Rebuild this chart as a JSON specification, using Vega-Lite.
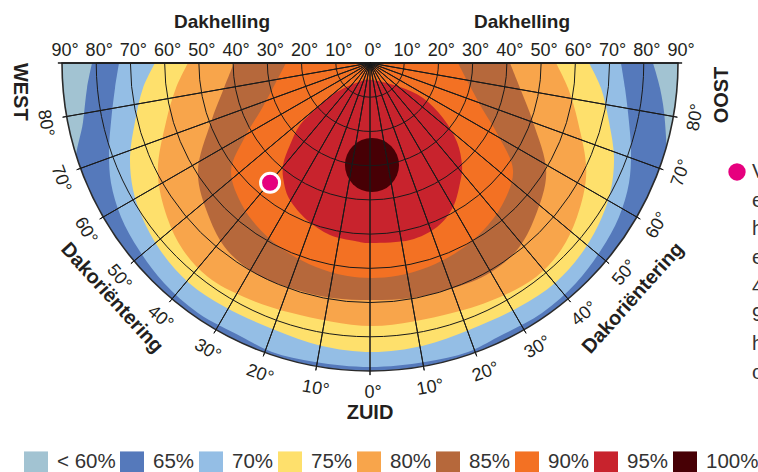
{
"$schema":"https://vega.github.io/schema/vega-lite/v6.json",
"width":758,"height":472,"autosize":"none","padding":0,
"config":{"view":{"stroke":null},"font":"Liberation Sans"},
"data":{"values":[{}]},
"datasets":{
"contours":[
{"lv":"65%","i":0,"u":82.69,"v":0},{"lv":"65%","i":1,"u":84.74,"v":7.31},{"lv":"65%","i":2,"u":86.20,"v":17.24},{"lv":"65%","i":3,"u":85.98,"v":31.29},{"lv":"65%","i":4,"u":79.24,"v":45.75},{"lv":"65%","i":5,"u":64.70,"v":64.70},{"lv":"65%","i":6,"u":45.75,"v":79.24},{"lv":"65%","i":7,"u":23.68,"v":88.38},{"lv":"65%","i":8,"u":0,"v":91.5},{"lv":"65%","i":9,"u":-23.68,"v":88.38},{"lv":"65%","i":10,"u":-45.75,"v":79.24},{"lv":"65%","i":11,"u":-64.70,"v":64.70},{"lv":"65%","i":12,"u":-79.24,"v":45.75},{"lv":"65%","i":13,"u":-85.98,"v":31.29},{"lv":"65%","i":14,"u":-83.86,"v":17.24},{"lv":"65%","i":15,"u":-82.69,"v":7.31},{"lv":"65%","i":16,"u":-81.23,"v":0},
{"lv":"70%","i":0,"u":73.34,"v":0},{"lv":"70%","i":1,"u":74.51,"v":7.31},{"lv":"70%","i":2,"u":75.68,"v":17.24},{"lv":"70%","i":3,"u":76.27,"v":25.42},{"lv":"70%","i":4,"u":75.68,"v":35.07},{"lv":"70%","i":5,"u":72.76,"v":45.00},{"lv":"70%","i":6,"u":67.50,"v":54.64},{"lv":"70%","i":7,"u":60.20,"v":64.29},{"lv":"70%","i":8,"u":50.26,"v":73.06},{"lv":"70%","i":9,"u":37.40,"v":80.07},{"lv":"70%","i":10,"u":28.64,"v":84.45},{"lv":"70%","i":11,"u":16.07,"v":87.37},{"lv":"70%","i":12,"u":0,"v":88.83},{"lv":"70%","i":13,"u":-16.07,"v":87.37},{"lv":"70%","i":14,"u":-28.64,"v":84.45},{"lv":"70%","i":15,"u":-37.40,"v":80.07},{"lv":"70%","i":16,"u":-50.26,"v":73.06},{"lv":"70%","i":17,"u":-60.20,"v":64.29},{"lv":"70%","i":18,"u":-67.50,"v":54.64},{"lv":"70%","i":19,"u":-72.76,"v":45.00},{"lv":"70%","i":20,"u":-75.68,"v":35.07},{"lv":"70%","i":21,"u":-76.27,"v":25.42},{"lv":"70%","i":22,"u":-75.68,"v":17.24},{"lv":"70%","i":23,"u":-74.51,"v":7.31},{"lv":"70%","i":24,"u":-73.34,"v":0},
{"lv":"75%","i":0,"u":63.99,"v":0},{"lv":"75%","i":1,"u":67.50,"v":7.31},{"lv":"75%","i":2,"u":69.84,"v":17.24},{"lv":"75%","i":3,"u":71.30,"v":27.5},{"lv":"75%","i":4,"u":70.40,"v":37.0},{"lv":"75%","i":5,"u":67.79,"v":45.00},{"lv":"75%","i":6,"u":62.53,"v":54.64},{"lv":"75%","i":7,"u":54.06,"v":64.29},{"lv":"75%","i":8,"u":43.54,"v":71.30},{"lv":"75%","i":9,"u":28.93,"v":78.02},{"lv":"75%","i":10,"u":15.5,"v":82.6},{"lv":"75%","i":11,"u":0.58,"v":84.45},{"lv":"75%","i":12,"u":-14.4,"v":82.6},{"lv":"75%","i":13,"u":-27.76,"v":78.02},{"lv":"75%","i":14,"u":-42.37,"v":71.30},{"lv":"75%","i":15,"u":-52.89,"v":64.29},{"lv":"75%","i":16,"u":-61.36,"v":54.64},{"lv":"75%","i":17,"u":-66.62,"v":45.00},{"lv":"75%","i":18,"u":-69.25,"v":37.0},{"lv":"75%","i":19,"u":-70.13,"v":27.5},{"lv":"75%","i":20,"u":-68.67,"v":17.24},{"lv":"75%","i":21,"u":-66.33,"v":7.31},{"lv":"75%","i":22,"u":-62.83,"v":0},
{"lv":"80%","i":0,"u":54.35,"v":0},{"lv":"80%","i":1,"u":57.86,"v":7.31},{"lv":"80%","i":2,"u":60.78,"v":17.24},{"lv":"80%","i":3,"u":63.2,"v":32.0},{"lv":"80%","i":4,"u":60.49,"v":45.00},{"lv":"80%","i":5,"u":55.81,"v":54.64},{"lv":"80%","i":6,"u":48.51,"v":62.53},{"lv":"80%","i":7,"u":37.99,"v":68.38},{"lv":"80%","i":8,"u":23.96,"v":73.06},{"lv":"80%","i":9,"u":0.58,"v":76.85},{"lv":"80%","i":10,"u":-22.79,"v":73.06},{"lv":"80%","i":11,"u":-36.82,"v":68.38},{"lv":"80%","i":12,"u":-47.34,"v":62.53},{"lv":"80%","i":13,"u":-54.64,"v":54.64},{"lv":"80%","i":14,"u":-59.32,"v":45.00},{"lv":"80%","i":15,"u":-62.0,"v":32.0},{"lv":"80%","i":16,"u":-59.61,"v":17.24},{"lv":"80%","i":17,"u":-56.69,"v":7.31},{"lv":"80%","i":18,"u":-53.18,"v":0},
{"lv":"85%","i":0,"u":40.91,"v":0},{"lv":"85%","i":1,"u":43.83,"v":7.31},{"lv":"85%","i":2,"u":47.63,"v":17.24},{"lv":"85%","i":3,"u":51.5,"v":32.0},{"lv":"85%","i":4,"u":48.21,"v":45.00},{"lv":"85%","i":5,"u":42.96,"v":54.64},{"lv":"85%","i":6,"u":33.90,"v":61.95},{"lv":"85%","i":7,"u":22.50,"v":66.33},{"lv":"85%","i":8,"u":12.27,"v":68.67},{"lv":"85%","i":9,"u":0.58,"v":69.25},{"lv":"85%","i":10,"u":-11.10,"v":68.67},{"lv":"85%","i":11,"u":-21.33,"v":66.33},{"lv":"85%","i":12,"u":-32.73,"v":61.95},{"lv":"85%","i":13,"u":-41.78,"v":54.64},{"lv":"85%","i":14,"u":-47.05,"v":45.00},{"lv":"85%","i":15,"u":-50.3,"v":32.0},{"lv":"85%","i":16,"u":-46.46,"v":17.24},{"lv":"85%","i":17,"u":-42.66,"v":7.31},{"lv":"85%","i":18,"u":-39.74,"v":0},
{"lv":"90%","i":0,"u":25.71,"v":0},{"lv":"90%","i":1,"u":29.51,"v":7.31},{"lv":"90%","i":2,"u":33.02,"v":13.73},{"lv":"90%","i":3,"u":37.40,"v":21.04},{"lv":"90%","i":4,"u":41.8,"v":31.5},{"lv":"90%","i":5,"u":38.6,"v":41.5},{"lv":"90%","i":6,"u":33.0,"v":49.0},{"lv":"90%","i":7,"u":25.8,"v":55.0},{"lv":"90%","i":8,"u":17.0,"v":59.6},{"lv":"90%","i":9,"u":8.0,"v":62.2},{"lv":"90%","i":10,"u":0.58,"v":62.83},{"lv":"90%","i":11,"u":-7.0,"v":62.2},{"lv":"90%","i":12,"u":-15.8,"v":59.6},{"lv":"90%","i":13,"u":-24.6,"v":55.0},{"lv":"90%","i":14,"u":-31.8,"v":49.0},{"lv":"90%","i":15,"u":-37.4,"v":41.5},{"lv":"90%","i":16,"u":-40.6,"v":31.5},{"lv":"90%","i":17,"u":-36.23,"v":21.04},{"lv":"90%","i":18,"u":-31.85,"v":13.73},{"lv":"90%","i":19,"u":-28.35,"v":7.31},{"lv":"90%","i":20,"u":-24.55,"v":0}
],
"red":[
{"i":0,"u":0.58,"v":4.97},{"i":1,"u":8.77,"v":7.01},{"i":2,"u":15.49,"v":10.23},{"i":3,"u":21.33,"v":16.07},{"i":4,"u":25.42,"v":23.08},{"i":5,"u":26.88,"v":29.81},{"i":6,"u":26.30,"v":35.07},{"i":7,"u":24.25,"v":42.08},{"i":8,"u":19.58,"v":47.92},{"i":9,"u":11.69,"v":51.72},{"i":10,"u":0.58,"v":52.60},{"i":11,"u":-4.38,"v":52.01},{"i":12,"u":-11.69,"v":50.26},{"i":13,"u":-18.41,"v":45.88},{"i":14,"u":-23.38,"v":40.03},{"i":15,"u":-25.13,"v":35.07},{"i":16,"u":-25.42,"v":29.81},{"i":17,"u":-23.38,"v":23.96},{"i":18,"u":-20.46,"v":18.12},{"i":19,"u":-15.49,"v":13.15},{"i":20,"u":-10.2,"v":8.77},{"i":21,"u":-3.5,"v":5.6}
],
"tilts":[{"t":10},{"t":20},{"t":30},{"t":40},{"t":50},{"t":60},{"t":70},{"t":80}],
"az":[{"s":-90},{"s":-80},{"s":-70},{"s":-60},{"s":-50},{"s":-40},{"s":-30},{"s":-20},{"s":-10},{"s":0},{"s":10},{"s":20},{"s":30},{"s":40},{"s":50},{"s":60},{"s":70},{"s":80},{"s":90}],
"azlab":[{"s":80,"lab":"80°"},{"s":70,"lab":"70°"},{"s":60,"lab":"60°"},{"s":50,"lab":"50°"},{"s":40,"lab":"40°"},{"s":30,"lab":"30°"},{"s":20,"lab":"20°"},{"s":10,"lab":"10°"},{"s":0,"lab":"0°"},{"s":-10,"lab":"10°"},{"s":-20,"lab":"20°"},{"s":-30,"lab":"30°"},{"s":-40,"lab":"40°"},{"s":-50,"lab":"50°"},{"s":-60,"lab":"60°"},{"s":-70,"lab":"70°"},{"s":-80,"lab":"80°"}],
"tlab":[{"u":-90,"lab":"90°"},{"u":-80,"lab":"80°"},{"u":-70,"lab":"70°"},{"u":-60,"lab":"60°"},{"u":-50,"lab":"50°"},{"u":-40,"lab":"40°"},{"u":-30,"lab":"30°"},{"u":-20,"lab":"20°"},{"u":-10,"lab":"10°"},{"u":0,"lab":"0°"},{"u":10,"lab":"10°"},{"u":20,"lab":"20°"},{"u":30,"lab":"30°"},{"u":40,"lab":"40°"},{"u":50,"lab":"50°"},{"u":60,"lab":"60°"},{"u":70,"lab":"70°"},{"u":80,"lab":"80°"},{"u":90,"lab":"90°"}]
},
"layer":[
{"mark":{"type":"arc","stroke":null},
 "encoding":{
  "x":{"datum":0,"type":"quantitative","scale":{"type":"linear","domain":[-108.118,113.377],"nice":false,"zero":false},"axis":null},
  "y":{"datum":0,"type":"quantitative","scale":{"type":"linear","domain":[-18.409,119.514],"nice":false,"zero":false,"reverse":true},"axis":null},
  "theta":{"datum":-90,"type":"quantitative","scale":{"type":"linear","domain":[-180,180],"range":[0,6.283185307179586]}},
  "theta2":{"datum":90},
  "radius":{"datum":90,"type":"quantitative","scale":{"type":"linear","domain":[0,90],"range":[0,308],"zero":true,"nice":false}},
  "color":{"datum":"< 60%","type":"nominal","scale":{"domain":["< 60%","65%","70%","75%","80%","85%","90%","95%","100%"],"range":["#a2c3d2","#5579bb","#94bee5","#fee06c","#f8a54b","#b6683b","#f37123","#c8232d","#470005"]},
   "legend":{"orient":"none","legendX":24,"legendY":450,"direction":"horizontal","columns":9,"title":null,"symbolType":"M-1,-0.92H1V0.92H-1Z","symbolSize":576,"symbolStrokeWidth":0,"labelFontSize":20.5,"labelColor":"#333333","labelOffset":9,"columnPadding":4,"padding":0}}
 }},
{"data":{"name":"contours"},
 "mark":{"type":"line","filled":true,"interpolate":"catmull-rom","strokeWidth":0},
 "encoding":{
  "x":{"field":"u","type":"quantitative","scale":{"type":"linear","domain":[-108.118,113.377],"nice":false,"zero":false},"axis":null},
  "y":{"field":"v","type":"quantitative","scale":{"type":"linear","domain":[-18.409,119.514],"nice":false,"zero":false,"reverse":true},"axis":null},
  "order":{"field":"i","type":"quantitative"},
  "color":{"field":"lv","type":"nominal","scale":{"domain":["< 60%","65%","70%","75%","80%","85%","90%","95%","100%"],"range":["#a2c3d2","#5579bb","#94bee5","#fee06c","#f8a54b","#b6683b","#f37123","#c8232d","#470005"]},
   "legend":{"orient":"none","legendX":24,"legendY":450,"direction":"horizontal","columns":9,"title":null,"symbolType":"M-1,-0.92H1V0.92H-1Z","symbolSize":576,"symbolStrokeWidth":0,"labelFontSize":20.5,"labelColor":"#333333","labelOffset":9,"columnPadding":4,"padding":0}}
 }},
{"data":{"name":"red"},
 "mark":{"type":"line","filled":true,"interpolate":"cardinal-closed","strokeWidth":0,"fill":"#c8232d"},
 "encoding":{
  "x":{"field":"u","type":"quantitative","scale":{"type":"linear","domain":[-108.118,113.377],"nice":false,"zero":false},"axis":null},
  "y":{"field":"v","type":"quantitative","scale":{"type":"linear","domain":[-18.409,119.514],"nice":false,"zero":false,"reverse":true},"axis":null},
  "order":{"field":"i","type":"quantitative"}
 }},
{"mark":{"type":"arc","stroke":null,"fill":"#470005"},
 "encoding":{
  "x":{"datum":0.58,"type":"quantitative","scale":{"type":"linear","domain":[-108.118,113.377],"nice":false,"zero":false},"axis":null},
  "y":{"datum":29.81,"type":"quantitative","scale":{"type":"linear","domain":[-18.409,119.514],"nice":false,"zero":false,"reverse":true},"axis":null},
  "theta":{"datum":-180,"type":"quantitative","scale":{"type":"linear","domain":[-180,180],"range":[0,6.283185307179586]}},
  "theta2":{"datum":180},
  "radius":{"datum":7.9,"type":"quantitative","scale":{"type":"linear","domain":[0,90],"range":[0,308],"zero":true,"nice":false}}
 }},
{"mark":{"type":"arc","fill":"white","stroke":null},
 "encoding":{
  "x":{"datum":0,"type":"quantitative","scale":{"type":"linear","domain":[-108.118,113.377],"nice":false,"zero":false},"axis":null},
  "y":{"datum":0,"type":"quantitative","scale":{"type":"linear","domain":[-18.409,119.514],"nice":false,"zero":false,"reverse":true},"axis":null},
  "theta":{"datum":-90,"type":"quantitative","scale":{"type":"linear","domain":[-180,180],"range":[0,6.283185307179586]}},
  "theta2":{"datum":90},
  "radius":{"datum":96,"type":"quantitative","scale":{"type":"linear","domain":[0,90],"range":[0,308],"zero":true,"nice":false}},
  "radius2":{"datum":90}
 }},
{"data":{"name":"tilts"},
 "mark":{"type":"arc","filled":false,"stroke":"#1a1a1a","strokeWidth":1},
 "encoding":{
  "x":{"datum":0,"type":"quantitative","scale":{"type":"linear","domain":[-108.118,113.377],"nice":false,"zero":false},"axis":null},
  "y":{"datum":0,"type":"quantitative","scale":{"type":"linear","domain":[-18.409,119.514],"nice":false,"zero":false,"reverse":true},"axis":null},
  "theta":{"datum":-90,"type":"quantitative","stack":null,"scale":{"type":"linear","domain":[-180,180],"range":[0,6.283185307179586]}},
  "theta2":{"datum":90},
  "radius":{"field":"t","type":"quantitative","stack":null,"scale":{"type":"linear","domain":[0,90],"range":[0,308],"zero":true,"nice":false}}
 }},
{"mark":{"type":"arc","filled":false,"stroke":"#2a2a2a","strokeWidth":1.6},
 "encoding":{
  "x":{"datum":0,"type":"quantitative","scale":{"type":"linear","domain":[-108.118,113.377],"nice":false,"zero":false},"axis":null},
  "y":{"datum":0,"type":"quantitative","scale":{"type":"linear","domain":[-18.409,119.514],"nice":false,"zero":false,"reverse":true},"axis":null},
  "theta":{"datum":-90,"type":"quantitative","scale":{"type":"linear","domain":[-180,180],"range":[0,6.283185307179586]}},
  "theta2":{"datum":90},
  "radius":{"datum":90,"type":"quantitative","scale":{"type":"linear","domain":[0,90],"range":[0,308],"zero":true,"nice":false}}
 }},
{"data":{"name":"az"},
 "mark":{"type":"arc","filled":false,"stroke":"#1a1a1a","strokeWidth":1},
 "encoding":{
  "x":{"datum":0,"type":"quantitative","scale":{"type":"linear","domain":[-108.118,113.377],"nice":false,"zero":false},"axis":null},
  "y":{"datum":0,"type":"quantitative","scale":{"type":"linear","domain":[-18.409,119.514],"nice":false,"zero":false,"reverse":true},"axis":null},
  "theta":{"field":"s","type":"quantitative","stack":null,"scale":{"type":"linear","domain":[-180,180],"range":[0,6.283185307179586]}},
  "theta2":{"field":"s"},
  "radius":{"datum":91.2,"type":"quantitative","scale":{"type":"linear","domain":[0,90],"range":[0,308],"zero":true,"nice":false}}
 }},
{"mark":{"type":"point","filled":true,"fill":"#e6007e","stroke":"white","strokeWidth":3,"size":361,"opacity":1},
 "encoding":{
  "x":{"datum":-29.2,"type":"quantitative","scale":{"type":"linear","domain":[-108.118,113.377],"nice":false,"zero":false},"axis":null},
  "y":{"datum":35.0,"type":"quantitative","scale":{"type":"linear","domain":[-18.409,119.514],"nice":false,"zero":false,"reverse":true},"axis":null}
 }},
{"mark":{"type":"point","filled":true,"fill":"#e6007e","strokeWidth":0,"size":300,"opacity":1},
 "encoding":{
  "x":{"datum":107.24,"type":"quantitative","scale":{"type":"linear","domain":[-108.118,113.377],"nice":false,"zero":false},"axis":null},
  "y":{"datum":31.85,"type":"quantitative","scale":{"type":"linear","domain":[-18.409,119.514],"nice":false,"zero":false,"reverse":true},"axis":null}
 }},
{"mark":{"type":"text","align":"left","baseline":"middle","fontSize":20,"fill":"#333333","lineHeight":28.7,"text":["Voorbeeld:","een dak met","helling van 45°","en oriëntatie","40° west geeft","90% van de","hoogst haalbare","opbrengst"]},
 "encoding":{
  "x":{"datum":111.63,"type":"quantitative","scale":{"type":"linear","domain":[-108.118,113.377],"nice":false,"zero":false},"axis":null},
  "y":{"datum":31.85,"type":"quantitative","scale":{"type":"linear","domain":[-18.409,119.514],"nice":false,"zero":false,"reverse":true},"axis":null}
 }},
{"data":{"name":"tlab"},
 "mark":{"type":"text","align":"center","baseline":"alphabetic","fontSize":18,"fill":"#231f20","dx":3},
 "encoding":{
  "x":{"field":"u","type":"quantitative","scale":{"type":"linear","domain":[-108.118,113.377],"nice":false,"zero":false},"axis":null},
  "y":{"datum":-1.9,"type":"quantitative","scale":{"type":"linear","domain":[-18.409,119.514],"nice":false,"zero":false,"reverse":true},"axis":null},
  "text":{"field":"lab"}
 }},
{"data":{"name":"azlab"},
 "mark":{"type":"text","align":"center","baseline":"middle","fontSize":18,"fill":"#231f20","dx":3},
 "encoding":{
  "x":{"datum":0,"type":"quantitative","scale":{"type":"linear","domain":[-108.118,113.377],"nice":false,"zero":false},"axis":null},
  "y":{"datum":0,"type":"quantitative","scale":{"type":"linear","domain":[-18.409,119.514],"nice":false,"zero":false,"reverse":true},"axis":null},
  "theta":{"field":"s","type":"quantitative","stack":null,"scale":{"type":"linear","domain":[-180,180],"range":[0,6.283185307179586]}},
  "radius":{"datum":96.5,"type":"quantitative","scale":{"type":"linear","domain":[0,90],"range":[0,308],"zero":true,"nice":false}},
  "angle":{"field":"s","type":"quantitative","scale":null},
  "text":{"field":"lab"}
 }},
{"mark":{"type":"text","align":"center","baseline":"alphabetic","fontSize":19,"fontWeight":"bold","fill":"#231f20","text":"Dakhelling"},
 "encoding":{
  "x":{"datum":-43.25,"type":"quantitative","scale":{"type":"linear","domain":[-108.118,113.377],"nice":false,"zero":false},"axis":null},
  "y":{"datum":-10.14,"type":"quantitative","scale":{"type":"linear","domain":[-18.409,119.514],"nice":false,"zero":false,"reverse":true},"axis":null}
 }},
{"mark":{"type":"text","align":"center","baseline":"alphabetic","fontSize":19,"fontWeight":"bold","fill":"#231f20","text":"Dakhelling"},
 "encoding":{
  "x":{"datum":44.42,"type":"quantitative","scale":{"type":"linear","domain":[-108.118,113.377],"nice":false,"zero":false},"axis":null},
  "y":{"datum":-10.14,"type":"quantitative","scale":{"type":"linear","domain":[-18.409,119.514],"nice":false,"zero":false,"reverse":true},"axis":null}
 }},
{"mark":{"type":"text","align":"center","baseline":"middle","fontSize":20,"fontWeight":"bold","fill":"#231f20","text":"WEST","angle":90},
 "encoding":{
  "x":{"datum":0,"type":"quantitative","scale":{"type":"linear","domain":[-108.118,113.377],"nice":false,"zero":false},"axis":null},
  "y":{"datum":0,"type":"quantitative","scale":{"type":"linear","domain":[-18.409,119.514],"nice":false,"zero":false,"reverse":true},"axis":null},
  "theta":{"datum":85.3,"type":"quantitative","scale":{"type":"linear","domain":[-180,180],"range":[0,6.283185307179586]}},
  "radius":{"datum":102.6,"type":"quantitative","scale":{"type":"linear","domain":[0,90],"range":[0,308],"zero":true,"nice":false}}
 }},
{"mark":{"type":"text","align":"center","baseline":"middle","fontSize":20,"fontWeight":"bold","fill":"#231f20","text":"OOST","angle":-90},
 "encoding":{
  "x":{"datum":0,"type":"quantitative","scale":{"type":"linear","domain":[-108.118,113.377],"nice":false,"zero":false},"axis":null},
  "y":{"datum":0,"type":"quantitative","scale":{"type":"linear","domain":[-18.409,119.514],"nice":false,"zero":false,"reverse":true},"axis":null},
  "theta":{"datum":-84.8,"type":"quantitative","scale":{"type":"linear","domain":[-180,180],"range":[0,6.283185307179586]}},
  "radius":{"datum":103.3,"type":"quantitative","scale":{"type":"linear","domain":[0,90],"range":[0,308],"zero":true,"nice":false}}
 }},
{"mark":{"type":"text","align":"center","baseline":"middle","fontSize":20,"fontWeight":"bold","fill":"#231f20","text":"ZUID"},
 "encoding":{
  "x":{"datum":0,"type":"quantitative","scale":{"type":"linear","domain":[-108.118,113.377],"nice":false,"zero":false},"axis":null},
  "y":{"datum":0,"type":"quantitative","scale":{"type":"linear","domain":[-18.409,119.514],"nice":false,"zero":false,"reverse":true},"axis":null},
  "theta":{"datum":0,"type":"quantitative","scale":{"type":"linear","domain":[-180,180],"range":[0,6.283185307179586]}},
  "radius":{"datum":102.4,"type":"quantitative","scale":{"type":"linear","domain":[0,90],"range":[0,308],"zero":true,"nice":false}}
 }},
{"mark":{"type":"text","align":"center","baseline":"middle","fontSize":20,"fontWeight":"bold","fill":"#231f20","text":"Dakoriëntering","angle":47.7},
 "encoding":{
  "x":{"datum":0,"type":"quantitative","scale":{"type":"linear","domain":[-108.118,113.377],"nice":false,"zero":false},"axis":null},
  "y":{"datum":0,"type":"quantitative","scale":{"type":"linear","domain":[-18.409,119.514],"nice":false,"zero":false,"reverse":true},"axis":null},
  "theta":{"datum":47.7,"type":"quantitative","scale":{"type":"linear","domain":[-180,180],"range":[0,6.283185307179586]}},
  "radius":{"datum":102.0,"type":"quantitative","scale":{"type":"linear","domain":[0,90],"range":[0,308],"zero":true,"nice":false}}
 }},
{"mark":{"type":"text","align":"center","baseline":"middle","fontSize":20,"fontWeight":"bold","fill":"#231f20","text":"Dakoriëntering","angle":-48.2},
 "encoding":{
  "x":{"datum":0,"type":"quantitative","scale":{"type":"linear","domain":[-108.118,113.377],"nice":false,"zero":false},"axis":null},
  "y":{"datum":0,"type":"quantitative","scale":{"type":"linear","domain":[-18.409,119.514],"nice":false,"zero":false,"reverse":true},"axis":null},
  "theta":{"datum":-48.2,"type":"quantitative","scale":{"type":"linear","domain":[-180,180],"range":[0,6.283185307179586]}},
  "radius":{"datum":103.1,"type":"quantitative","scale":{"type":"linear","domain":[0,90],"range":[0,308],"zero":true,"nice":false}}
 }}
]
}
